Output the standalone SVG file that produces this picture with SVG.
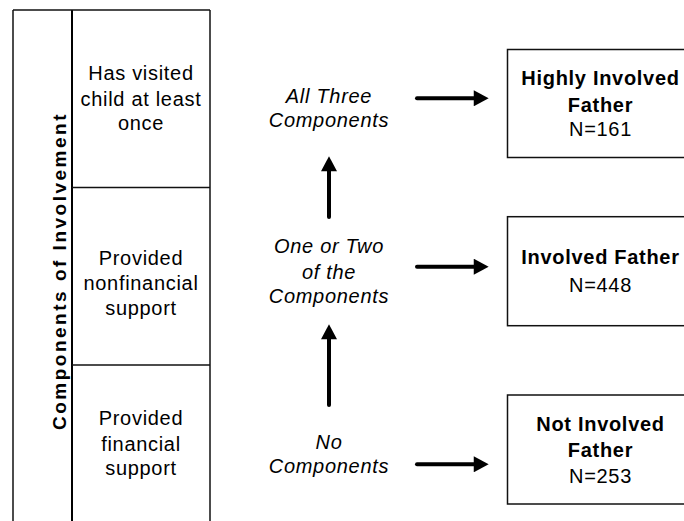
<svg xmlns="http://www.w3.org/2000/svg" width="684" height="521" viewBox="0 0 684 521">
<style>
  .t{font-family:"Liberation Sans",Arial,sans-serif;font-size:20px;letter-spacing:0.7px;fill:#000;text-anchor:middle}
  .b{font-weight:bold}
  .i{font-style:italic}
  .box{fill:#fff;stroke:#111;stroke-width:1.5}
  .ln{stroke:#111;stroke-width:1.5;fill:none}
  .arr{stroke:#000;stroke-width:4;stroke-linecap:round;fill:none}
</style>
<defs>
  <marker id="ah" markerUnits="userSpaceOnUse" markerWidth="16" markerHeight="16" viewBox="0 0 14 15" refX="4" refY="7.5" orient="auto">
    <path d="M0,0 L14,7.5 L0,15 Z" fill="#000"/>
  </marker>
</defs>
<g id="components-column">
  <line class="ln" x1="13" y1="10" x2="13" y2="521"/>
  <line class="ln" x1="72" y1="10" x2="72" y2="521" style="stroke:#000;stroke-width:2"/>
  <line class="ln" x1="210" y1="10" x2="210" y2="521"/>
  <line class="ln" x1="13" y1="10" x2="210" y2="10"/>
  <line class="ln" x1="72" y1="187.5" x2="210" y2="187.5"/>
  <line class="ln" x1="72" y1="365" x2="210" y2="365"/>
  <text class="t b" transform="translate(65.5,271) rotate(-90)" style="font-size:19px;letter-spacing:2.5px">Components of Involvement</text>
</g>
<g id="visited">
  <text class="t" x="141" y="80">Has visited</text>
  <text class="t" x="141" y="106">child at least</text>
  <text class="t" x="141" y="130">once</text>
</g>
<g id="nonfinancial">
  <text class="t" x="141" y="265">Provided</text>
  <text class="t" x="141" y="290">nonfinancial</text>
  <text class="t" x="141" y="315">support</text>
</g>
<g id="financial">
  <text class="t" x="141" y="425">Provided</text>
  <text class="t" x="141" y="450.5">financial</text>
  <text class="t" x="141" y="475">support</text>
</g>
<g id="all-three">
  <text class="t i" x="329" y="102.7">All Three</text>
  <text class="t i" x="329" y="126.7">Components</text>
</g>
<g id="one-or-two">
  <text class="t i" x="329" y="252.7">One or Two</text>
  <text class="t i" x="329" y="279">of the</text>
  <text class="t i" x="329" y="303.3">Components</text>
</g>
<g id="no-components">
  <text class="t i" x="329" y="449.3">No</text>
  <text class="t i" x="329" y="473.3">Components</text>
</g>
<g id="highly-involved">
  <rect class="box" x="507.5" y="49.5" width="190" height="108"/>
  <text class="t b" x="600.5" y="85">Highly Involved</text>
  <text class="t b" x="600.5" y="111.5">Father</text>
  <text class="t" x="600.5" y="136">N=161</text>
</g>
<g id="involved">
  <rect class="box" x="507.5" y="216.7" width="190" height="109"/>
  <text class="t b" x="600.5" y="264.3">Involved Father</text>
  <text class="t" x="600.5" y="291.7">N=448</text>
</g>
<g id="not-involved">
  <rect class="box" x="507.5" y="395" width="190" height="109"/>
  <text class="t b" x="600.5" y="431">Not Involved</text>
  <text class="t b" x="600.5" y="456.7">Father</text>
  <text class="t" x="600.5" y="482.7">N=253</text>
</g>
<g id="connectors">
  <line class="arr" x1="417" y1="98.3" x2="478" y2="98.3" marker-end="url(#ah)"/>
  <line class="arr" x1="417" y1="266.7" x2="478" y2="266.7" marker-end="url(#ah)"/>
  <line class="arr" x1="417" y1="464.3" x2="478" y2="464.3" marker-end="url(#ah)"/>
  <line class="arr" x1="329" y1="217" x2="329" y2="167" marker-end="url(#ah)"/>
  <line class="arr" x1="329" y1="405" x2="329" y2="335" marker-end="url(#ah)"/>
</g>
</svg>
